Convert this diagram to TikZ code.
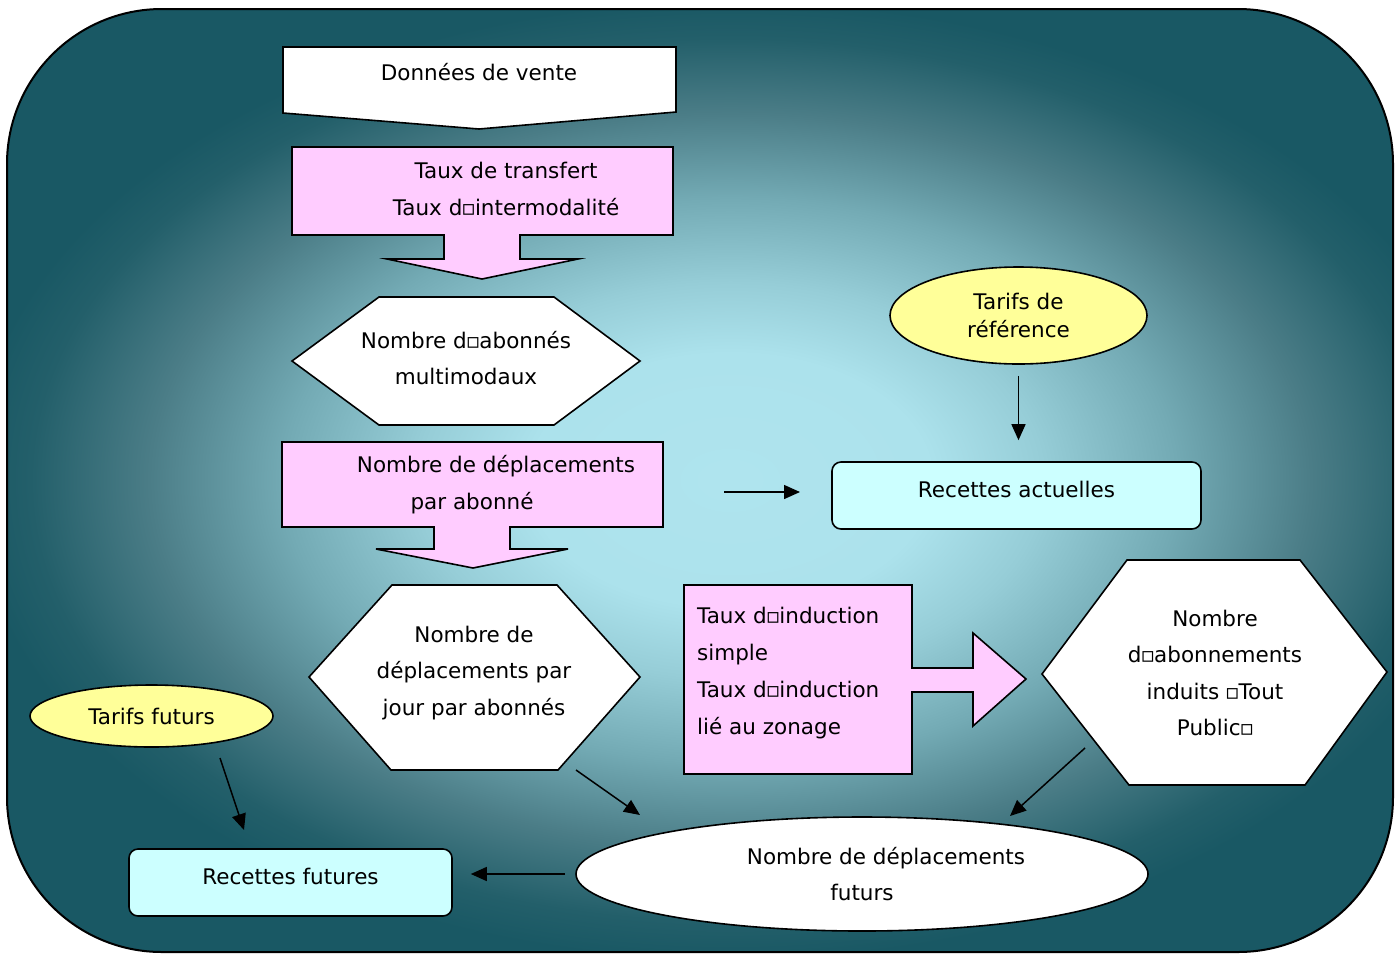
\documentclass[tikz,border=0pt]{standalone}
\usepackage{fontspec}
\setmainfont{DejaVu Sans}
\usetikzlibrary{arrows.meta,shapes.geometric}
\definecolor{bga}{RGB}{175,228,238}
\definecolor{bgb}{RGB}{172,226,236}
\definecolor{bgc}{RGB}{150,205,215}
\definecolor{bgd}{RGB}{115,170,180}
\definecolor{bge}{RGB}{75,125,135}
\definecolor{bgf}{RGB}{35,95,106}
\definecolor{bgg}{RGB}{25,88,100}
\definecolor{pinkf}{RGB}{255,204,255}
\definecolor{cyanf}{RGB}{204,255,255}
\definecolor{yellowf}{RGB}{255,255,153}
\pgfdeclareradialshading{bgshade}{\pgfpoint{0bp}{0bp}}{color(0bp)=(bga); color(3.3bp)=(bgb); color(5.15bp)=(bgc); color(7.35bp)=(bgd); color(9.55bp)=(bge); color(11.5bp)=(bgf); color(12.5bp)=(bgg); color(50bp)=(bgg)}
\newcommand\tofubox{\kern-1pt▫\kern-1pt}
\begin{document}
\begin{tikzpicture}[x=1pt,y=-1pt,
  shp/.style={draw=black, line width=1.6pt, line join=miter},
  txt/.style={font=\fontsize{21.5}{36.5}\selectfont, align=center, inner sep=0pt},
  arr/.style={-{Triangle[length=16pt,width=14pt]}, line width=1.5pt},
  rbox/.style={shp, fill=cyanf, rounded corners=9pt, font=\fontsize{21.5}{36.5}\selectfont, inner sep=0pt, text height=15.6pt, text depth=11pt},
  ell/.style={shp, ellipse, fill=yellowf, inner sep=0pt}]
\useasboundingbox (0,0) rectangle (1400,954);
% background
\begin{scope}
\clip[rounded corners=155pt] (7,9) rectangle (1393,952);
\shade[shading=bgshade] (-790,-480) rectangle (2250,1440);
\end{scope}
\draw[line width=2pt, rounded corners=155pt] (7,9) rectangle (1393,952);
% Donnees de vente
\draw[shp, fill=white] (283,47) -- (676,47) -- (676,112) -- (479,129) -- (283,113) -- cycle;
\node[txt] (dv) at (479,72.5) {Données de vente};
% pink arrow box 1
\draw[shp, fill=pinkf] (292,147) -- (673,147) -- (673,235) -- (520,235) -- (520,259) -- (578,259) -- (482,279) -- (387,259) -- (444,259) -- (444,235) -- (292,235) -- cycle;
\node[txt] (tt) at (506,189) {Taux de transfert\\Taux d\tofubox intermodalité};
% hexagon 1
\draw[shp, fill=white] (292,361) -- (379,297) -- (554,297) -- (640,361) -- (554,425) -- (379,425) -- cycle;
\node[txt] (na) at (466,358) {Nombre d\tofubox abonnés\\multimodaux};
% pink arrow box 2
\draw[shp, fill=pinkf] (282,442) -- (663,442) -- (663,527) -- (510,527) -- (510,549) -- (568,549) -- (473,568) -- (376,549) -- (434,549) -- (434,527) -- (282,527) -- cycle;
\node[txt] (nd) at (472,484.5) {\hspace*{48pt}Nombre de déplacements\\par abonné};
% hexagon 2
\draw[shp, fill=white] (309,677) -- (392,585) -- (557,585) -- (640,677) -- (558,770) -- (391,770) -- cycle;
\node[txt] (nj) at (474,673) {Nombre de\\déplacements par\\jour par abonnés};
% pink box 3 with right arrow
\draw[shp, fill=pinkf] (684,585) -- (912,585) -- (912,668) -- (973,668) -- (973,633) -- (1026,679) -- (973,726) -- (973,692) -- (912,692) -- (912,774) -- (684,774) -- cycle;
\node[txt, align=left, anchor=west, font=\fontsize{21.5}{37}\selectfont] (ti) at (697,673.5) {Taux d\tofubox induction\\simple\\Taux d\tofubox induction\\lié au zonage};
% hexagon 3
\draw[shp, fill=white] (1042,674) -- (1127,560) -- (1300,560) -- (1387,672) -- (1305,785) -- (1129,785) -- cycle;
\node[txt] (nab) at (1215,673) {Nombre\\d\tofubox abonnements\\induits \tofubox Tout\\Public\tofubox};
% ellipses and rounded boxes
\node[ell, minimum width=257pt, minimum height=97pt, font=\fontsize{21.5}{28}\selectfont, align=center] (tref) at (1018.5,315.5) {Tarifs de\\référence};
\node[rbox, minimum width=369pt, minimum height=67pt] (ract) at (1016.5,495.5) {Recettes actuelles};
\node[ell, txt, minimum width=243pt, minimum height=62pt] (tfut) at (151.5,716) {Tarifs futurs};
\node[rbox, minimum width=323pt, minimum height=67pt] (rfut) at (290.5,882.5) {Recettes futures};
\node[shp, ellipse, fill=white, txt, minimum width=572pt, minimum height=114pt] (ndf) at (862,874) {\hspace*{48pt}Nombre de déplacements\\futurs};
% connectors
\coordinate (hs) at (724,492);
\coordinate (he) at (800,492);
\draw[arr] (hs) -- (he);
\draw[arr, shorten <=11pt, shorten >=21pt] (tref.south) -- (tref.south |- ract.north);
\coordinate (c1s) at (1085,748);
\coordinate (c1e) at (1010,816);
\draw[arr] (c1s) -- (c1e);
\coordinate (c2s) at (576,770);
\coordinate (c2e) at (640,815);
\draw[arr] (c2s) -- (c2e);
\draw[arr, shorten <=10pt, shorten >=18pt] (ndf.west) -- (ndf.west -| rfut.east);
\coordinate (c4s) at (220,758);
\coordinate (c4e) at (244,830);
\draw[arr] (c4s) -- (c4e);
\end{tikzpicture}
\end{document}
